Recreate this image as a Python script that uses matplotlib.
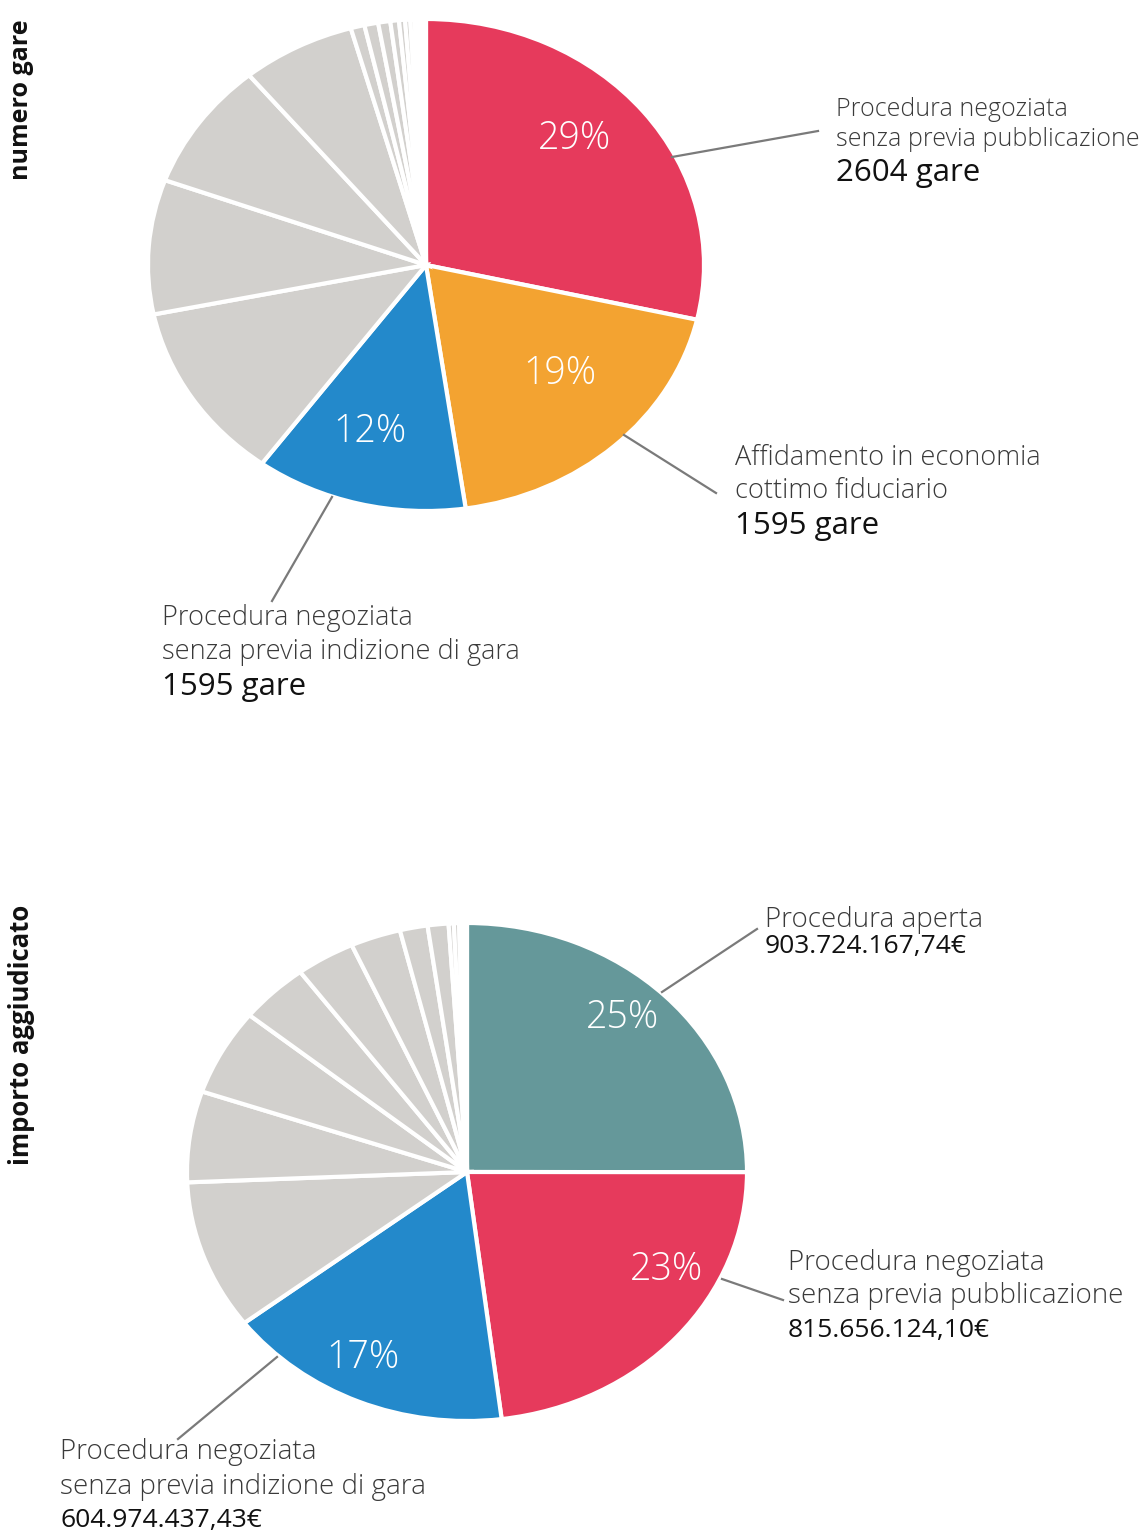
import matplotlib.pyplot as plt
from matplotlib.lines import Line2D

W, H = 1148, 1533
FONT = 'Open Sans'

# quote (%) per tipo di procedura, in senso orario a partire dall'alto
gare_share = [28.5, 19.1, 12.3, 11.7, 8.8, 8.4, 6.6,
              0.8, 0.8, 0.7, 0.5, 0.35, 0.3, 0.25, 0.2, 0.15, 0.12, 0.1, 0.08]
gare_pct = ['29%', '19%', '12%']

importo_share = [25.0, 23.0, 16.6, 9.7, 5.9, 5.6, 4.0, 3.4, 2.9, 1.6, 1.2,
                 0.3, 0.3, 0.2, 0.15, 0.1]
importo_pct = ['25%', '23%', '17%']

RED = '#e63a5c'
ORANGE = '#f3a331'
BLUE = '#2389cb'
TEAL = '#65989a'
GREY = '#d2d0cd'

gare_colors = [RED, ORANGE, BLUE] + [GREY] * (len(gare_share) - 3)
importo_colors = [TEAL, RED, BLUE] + [GREY] * (len(importo_share) - 3)

fig = plt.figure(figsize=(W / 100, H / 100), dpi=100)


def fx(x):
    return x / W


def fy(y):
    return 1 - y / H


def pie_axes(cx, cy, rx, ry, lim=1.35):
    # axes placed so that the pie (radius 1) has the given pixel centre/radii
    w = 2 * lim * rx
    h = 2 * lim * ry
    ax = fig.add_axes([fx(cx - w / 2), fy(cy + h / 2), w / W, h / H])
    ax.axis('off')
    return ax


def draw_pie(ax, values, colors, pcts, pct_pos):
    wedges, _ = ax.pie(values, colors=colors, startangle=90, counterclock=False,
                       wedgeprops=dict(edgecolor='white', linewidth=3),
                       radius=1.0)
    ax.set_xlim(-1.35, 1.35)
    ax.set_ylim(-1.35, 1.35)
    ax.set_aspect('auto')
    for w in wedges:
        w.set_clip_on(False)
    for txt, (px, py) in zip(pcts, pct_pos):
        fig.text(fx(px), fy(py), txt, ha='center', va='center', color='white',
                 fontsize=27, family=FONT, fontweight='light')


def leader(x0, y0, x1, y1):
    fig.add_artist(Line2D([fx(x0), fx(x1)], [fy(y0), fy(y1)], color='#7a7a7a',
                          linewidth=1.6))


def label(x, y, lines, sizes, colors, weights):
    for (yy, t), s, c, wgt in zip(zip(y, lines), sizes, colors, weights):
        fig.text(fx(x), fy(yy), t, ha='left', va='center', fontsize=s,
                 color=c, family=FONT, fontweight=wgt)


NAME = '#3a3a3a'
VAL = '#111111'

# --- numero gare ---
ax1 = pie_axes(426, 265, 278, 246)
draw_pie(ax1, gare_share, gare_colors, gare_pct,
         [(574, 139), (560, 374), (370, 432)])

fig.text(fx(22), fy(100), 'numero gare', rotation=90, ha='center', va='center',
         fontsize=18, family=FONT, fontweight='bold', color=VAL)

leader(672, 157, 818, 131)
label(836, [109, 139, 173],
      ['Procedura negoziata', 'senza previa pubblicazione', '2604 gare'],
      [18, 18, 22.5], [NAME, NAME, VAL], ['light', 'light', 'normal'])

leader(624, 435, 716, 493)
label(735, [458, 491, 526],
      ['Affidamento in economia', 'cottimo fiduciario', '1595 gare'],
      [19.5, 19.5, 22.5], [NAME, NAME, VAL], ['light', 'light', 'normal'])

leader(332, 497, 272, 601)
label(162, [618, 652, 687],
      ['Procedura negoziata', 'senza previa indizione di gara', '1595 gare'],
      [19.5, 19.5, 22.5], [NAME, NAME, VAL], ['light', 'light', 'normal'])

# --- importo aggiudicato ---
ax2 = pie_axes(467, 1172, 280, 249)
draw_pie(ax2, importo_share, importo_colors, importo_pct,
         [(623, 1018), (667, 1270), (363, 1358)])

fig.text(fx(22), fy(1035), 'importo aggiudicato', rotation=90, ha='center',
         va='center', fontsize=18.5, family=FONT, fontweight='bold', color=VAL)

leader(662, 992, 757, 929)
label(765, [920, 947], ['Procedura aperta', '903.724.167,74€'],
      [20, 19], [NAME, VAL], ['light', 'normal'])

leader(722, 1279, 783, 1300)
label(788, [1263, 1296, 1330],
      ['Procedura negoziata', 'senza previa pubblicazione', '815.656.124,10€'],
      [20, 20, 19], [NAME, NAME, VAL], ['light', 'light', 'normal'])

leader(277, 1357, 178, 1439)
label(60, [1452, 1487, 1520],
      ['Procedura negoziata', 'senza previa indizione di gara', '604.974.437,43€'],
      [20, 20, 19], [NAME, NAME, VAL], ['light', 'light', 'normal'])

fig.savefig('out.png', dpi=100, facecolor='white')
